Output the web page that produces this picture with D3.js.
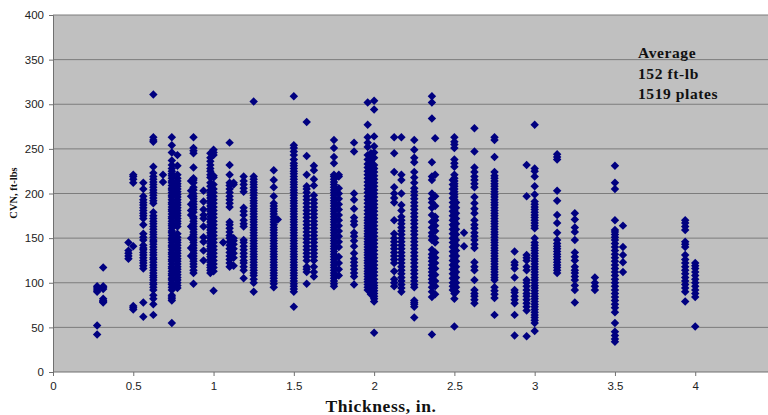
<!DOCTYPE html>
<html>
<head>
<meta charset="utf-8">
<script src="https://cdnjs.cloudflare.com/ajax/libs/d3/7.8.5/d3.min.js"></script>
<style>
  html, body { margin: 0; padding: 0; background: #fff; }
  svg { display: block; }
</style>
</head>
<body>
<svg id="chart" width="768" height="415"></svg>
<script>
const xTicks = [0, 0.5, 1, 1.5, 2, 2.5, 3, 3.5, 4];
const yTicks = [0, 50, 100, 150, 200, 250, 300, 350, 400];
const noteLines = ['Average', '152 ft-lb', '1519 plates'];

// one thickness per column of plates
const thickness = [
  0.275, 0.3125, 0.47, 0.5, 0.5625, 0.625, 0.685, 0.74, 0.775, 0.86, 0.875, 0.9375,
  0.98, 1, 1.06, 1.1, 1.125, 1.1875, 1.25, 1.375, 1.4, 1.5, 1.58, 1.625,
  1.75, 1.78, 1.875, 1.96, 1.98, 2, 2.125, 2.17, 2.25, 2.36, 2.38, 2.49,
  2.5, 2.51, 2.56, 2.625, 2.75, 2.875, 2.95, 3, 3.14, 3.25, 3.375, 3.5,
  3.55, 3.9375, 4
];

// CVN readings (ft-lbs), same order as thickness
const cvn = [
  [42, 52, 90, 92, 94, 96],
  [78, 79, 80, 82, 93, 95, 96, 117],
  [127, 130, 133, 136, 145],
  [70, 72, 74, 141, 212, 216, 219, 221],
  [62, 78, 116, 119, 122, 125, 128, 131, 134, 137, 139, 142, 148, 151, 155, 165, 172, 175, 178, 181, 184, 187, 190, 193, 197, 205, 212],
  [64, 76, 82, 86, 92, 95, 98, 100, 103, 106, 108, 111, 114, 117, 120, 123, 126, 128, 131, 134, 137, 140, 143, 146, 148, 151, 154, 157, 160, 163, 166, 169, 172, 175, 179, 189, 192, 195, 198, 201, 204, 207, 210, 213, 216, 219, 223, 230, 258, 260, 263, 311],
  [213, 221],
  [55, 80, 82, 84, 86, 92, 95, 98, 100, 103, 105, 108, 110, 113, 116, 118, 121, 124, 126, 129, 132, 134, 137, 140, 142, 145, 148, 150, 153, 156, 158, 161, 164, 166, 169, 172, 174, 177, 180, 182, 185, 188, 190, 193, 196, 198, 201, 204, 206, 209, 212, 214, 217, 220, 222, 225, 228, 232, 237, 246, 254, 263],
  [94, 97, 100, 103, 106, 109, 112, 115, 118, 121, 124, 127, 130, 133, 136, 139, 142, 145, 148, 151, 155, 163, 166, 169, 172, 175, 178, 181, 184, 187, 190, 193, 196, 199, 202, 205, 208, 211, 214, 217, 221, 231, 243],
  [130, 139, 150, 163, 176, 181, 188, 197, 203, 214],
  [99, 111, 114, 118, 121, 124, 127, 130, 133, 136, 139, 142, 145, 148, 151, 154, 157, 160, 163, 166, 169, 172, 174, 179, 182, 185, 188, 191, 194, 197, 200, 204, 207, 212, 215, 217, 229, 245, 248, 251, 263],
  [125, 136, 146, 151, 163, 172, 176, 182, 191, 203],
  [111, 114, 117, 120, 123, 126, 129, 132, 135, 138, 141, 144, 147, 150, 153, 156, 159, 162, 165, 168, 171, 174, 177, 180, 183, 186, 189, 192, 195, 198, 201, 204, 208, 212, 218, 221, 225, 228, 232, 236, 240, 245],
  [91, 113, 117, 121, 125, 129, 133, 137, 141, 145, 149, 153, 157, 161, 165, 169, 173, 177, 181, 185, 189, 193, 197, 201, 205, 210, 218, 220, 243, 246, 249],
  [145],
  [118, 122, 126, 130, 134, 138, 142, 146, 150, 153, 157, 161, 165, 168, 185, 189, 193, 197, 201, 205, 209, 212, 221, 232, 257],
  [119, 128, 133, 138, 143, 147, 150, 210, 212],
  [105, 114, 118, 122, 125, 129, 133, 137, 141, 145, 148, 163, 166, 170, 176, 180, 184, 202, 206, 210, 214, 219],
  [90, 100, 104, 108, 111, 114, 117, 120, 123, 126, 129, 132, 135, 138, 141, 144, 147, 150, 153, 156, 159, 162, 165, 168, 171, 174, 177, 180, 183, 186, 189, 192, 195, 198, 201, 204, 207, 210, 213, 216, 219, 303],
  [95, 99, 102, 105, 108, 111, 114, 117, 120, 123, 126, 129, 132, 135, 138, 141, 144, 147, 150, 153, 156, 159, 162, 165, 168, 171, 174, 177, 180, 183, 186, 189, 197, 207, 215, 226],
  [171],
  [73, 90, 93, 96, 99, 102, 105, 108, 111, 114, 117, 120, 123, 126, 129, 132, 135, 138, 141, 144, 147, 150, 153, 156, 159, 162, 165, 168, 171, 174, 177, 180, 183, 186, 189, 192, 195, 198, 201, 204, 207, 210, 213, 216, 219, 222, 225, 228, 231, 234, 238, 243, 247, 251, 254, 309],
  [99, 112, 115, 118, 125, 129, 133, 137, 141, 145, 149, 153, 157, 161, 165, 169, 173, 177, 181, 185, 189, 193, 197, 201, 205, 208, 221, 242, 280],
  [107, 112, 118, 125, 129, 133, 137, 141, 145, 149, 153, 157, 161, 165, 169, 173, 177, 181, 185, 189, 193, 198, 209, 216, 226, 231],
  [96, 99, 102, 105, 108, 111, 114, 117, 120, 123, 126, 129, 132, 135, 138, 141, 144, 147, 150, 153, 156, 159, 162, 165, 168, 171, 174, 177, 180, 183, 186, 189, 192, 195, 198, 201, 204, 207, 210, 213, 216, 219, 221, 234, 241, 251, 260],
  [108, 115, 122, 129, 140, 146, 152, 158, 164, 170, 176, 182, 188, 194, 200, 206, 219, 221],
  [98, 107, 111, 115, 119, 123, 127, 133, 141, 147, 152, 156, 165, 169, 173, 183, 193, 200, 247, 257],
  [92, 95, 98, 101, 104, 107, 110, 113, 116, 119, 122, 125, 128, 131, 134, 137, 140, 143, 146, 149, 152, 155, 158, 161, 164, 167, 170, 173, 177, 181, 185, 189, 193, 197, 201, 205, 209, 213, 217, 221, 225, 229, 233, 238, 243, 252, 257, 263, 277, 302],
  [87, 90, 93, 96, 99, 102, 105, 108, 111, 114, 117, 120, 123, 126, 129, 132, 135, 138, 141, 144, 147, 150, 153, 156, 159, 162, 165, 168, 171, 174, 177, 180, 183, 186, 189, 192, 195, 198, 201, 204, 207, 210, 213, 216, 219, 222, 225, 228, 232, 236, 240, 245],
  [44, 79, 82, 85, 88, 91, 94, 97, 100, 104, 108, 112, 116, 120, 124, 128, 132, 136, 140, 144, 148, 152, 156, 160, 164, 168, 172, 176, 180, 184, 188, 192, 196, 200, 204, 208, 212, 216, 220, 224, 228, 232, 240, 246, 253, 264, 294, 304],
  [96, 100, 104, 113, 122, 126, 130, 134, 138, 142, 146, 150, 155, 170, 190, 195, 200, 207, 224, 245, 263],
  [90, 94, 98, 102, 106, 110, 114, 118, 122, 126, 130, 134, 138, 142, 146, 150, 154, 158, 162, 166, 170, 174, 181, 187, 200, 215, 221, 263],
  [61, 73, 76, 78, 80, 95, 98, 102, 106, 110, 114, 118, 122, 126, 130, 134, 138, 142, 146, 150, 154, 158, 162, 166, 170, 174, 178, 182, 186, 190, 194, 198, 202, 206, 212, 218, 224, 235, 240, 249, 260],
  [42, 84, 90, 95, 100, 104, 108, 112, 116, 120, 124, 128, 132, 137, 148, 152, 156, 162, 168, 176, 184, 190, 194, 200, 215, 219, 235, 284, 302, 309],
  [87, 96, 102, 109, 116, 122, 128, 134, 145, 150, 158, 164, 170, 174, 186, 197, 221, 262],
  [92, 96, 100, 105, 110, 115, 120, 125, 130, 135, 140, 145, 150, 155, 160, 165, 170, 175, 180, 185, 190, 195, 200, 205, 210, 215],
  [51, 82, 88, 91, 94, 97, 100, 103, 106, 109, 112, 115, 118, 121, 124, 127, 130, 133, 136, 139, 142, 145, 148, 151, 154, 157, 160, 163, 166, 169, 172, 175, 178, 181, 184, 187, 190, 193, 196, 199, 202, 205, 208, 211, 214, 217, 221, 230, 234, 238, 251, 255, 258, 263],
  [90, 95, 100, 106, 112, 118, 124, 130, 136, 142, 148, 154, 160, 166, 172, 178, 184, 190],
  [141, 156],
  [77, 81, 85, 88, 92, 103, 114, 118, 123, 139, 143, 148, 152, 156, 161, 165, 170, 178, 183, 189, 196, 207, 211, 215, 219, 224, 229, 247, 273],
  [64, 83, 87, 91, 95, 103, 106, 109, 112, 115, 118, 121, 124, 127, 130, 133, 136, 139, 142, 145, 148, 151, 154, 157, 160, 163, 166, 169, 172, 175, 178, 181, 184, 187, 190, 193, 196, 199, 202, 205, 208, 211, 214, 217, 220, 224, 241, 260, 263],
  [41, 64, 77, 81, 85, 89, 92, 106, 116, 120, 123, 135],
  [40, 69, 73, 77, 81, 85, 88, 92, 96, 100, 103, 114, 118, 125, 128, 131, 197, 232],
  [46, 55, 58, 61, 64, 67, 70, 73, 76, 79, 82, 85, 88, 91, 94, 97, 100, 103, 106, 109, 112, 115, 118, 121, 124, 127, 130, 133, 136, 139, 142, 145, 150, 161, 164, 167, 170, 173, 176, 179, 182, 185, 188, 191, 199, 208, 219, 225, 228, 277],
  [111, 114, 117, 120, 123, 126, 129, 132, 135, 138, 141, 144, 148, 156, 167, 176, 192, 203, 238, 241, 244],
  [78, 92, 97, 103, 107, 111, 114, 118, 125, 129, 134, 148, 157, 162, 171, 178],
  [92, 96, 100, 106],
  [34, 37, 41, 45, 55, 67, 72, 76, 80, 84, 88, 92, 96, 100, 104, 108, 112, 116, 120, 124, 128, 132, 136, 140, 144, 148, 151, 154, 157, 159, 170, 205, 212, 231],
  [112, 123, 131, 140, 164],
  [79, 90, 94, 98, 102, 106, 110, 114, 118, 122, 126, 131, 140, 143, 146, 159, 163, 167, 170],
  [51, 84, 88, 92, 96, 100, 104, 108, 112, 116, 119, 122]
];

const svg = d3.select('#chart');
const margin = { left: 53, top: 15, bottom: 43 };
const height = 415;

const x = d3.scaleLinear().domain([0, 4.5]).range([margin.left, 775.5]);
const y = d3.scaleLinear().domain([0, 400]).range([height - margin.bottom, margin.top]);

const axisColor = '#707070';
const labelFont = '"Liberation Sans", Arial, sans-serif';
const titleFont = '"Liberation Serif", "Times New Roman", serif';

svg.append('rect')
  .attr('x', margin.left)
  .attr('y', margin.top)
  .attr('width', 768 - margin.left)
  .attr('height', y(0) - margin.top)
  .attr('fill', '#c0c0c0');

svg.append('g')
  .selectAll('line')
  .data(yTicks.filter(d => d > 0))
  .join('line')
  .attr('x1', margin.left)
  .attr('x2', 768)
  .attr('y1', d => y(d))
  .attr('y2', d => y(d))
  .attr('stroke', '#7c7c7c')
  .attr('stroke-width', 1);

const yAxis = d3.axisLeft(y).tickValues(yTicks).tickSize(4).tickPadding(5);
const xAxis = d3.axisBottom(x).tickValues(xTicks).tickFormat(d3.format('~g')).tickSize(4).tickPadding(6);

const yAxisG = svg.append('g')
  .attr('transform', `translate(${margin.left},0)`)
  .call(yAxis);
const xAxisG = svg.append('g')
  .attr('transform', `translate(0,${y(0)})`)
  .call(xAxis);

// the domain line would stop short of the page edge without this
xAxisG.select('.domain').attr('d', `M${margin.left},0H768`);

[yAxisG, xAxisG].forEach(g => {
  g.selectAll('path, line').attr('stroke', axisColor);
  g.selectAll('text')
    .attr('fill', '#222')
    .style('font-family', labelFont)
    .style('font-size', '11.5px');
});

const points = thickness.flatMap((t, i) => cvn[i].map(v => ({ t, v })));

// diamond marker: a square turned 45 degrees
const diamond = d3.symbol().type(d3.symbolSquare).size(36);
svg.append('g')
  .selectAll('path')
  .data(points)
  .join('path')
  .attr('d', diamond)
  .attr('transform', d => `translate(${x(d.t)},${y(d.v)}) rotate(45)`)
  .attr('fill', '#000080');

svg.append('text')
  .attr('transform', 'translate(17,193) rotate(-90)')
  .attr('text-anchor', 'middle')
  .style('font-family', titleFont)
  .style('font-weight', 'bold')
  .style('font-size', '10.5px')
  .attr('fill', '#111')
  .text('CVN, ft-lbs');

svg.append('text')
  .attr('x', 381)
  .attr('y', 412)
  .attr('text-anchor', 'middle')
  .style('font-family', titleFont)
  .style('font-weight', 'bold')
  .style('font-size', '17.5px')
  .style('letter-spacing', '0.6px')
  .attr('fill', '#111')
  .text('Thickness, in.');

svg.append('g')
  .selectAll('text')
  .data(noteLines)
  .join('text')
  .attr('x', 638)
  .attr('y', (d, i) => 58 + i * 20.5)
  .style('font-family', titleFont)
  .style('font-weight', 'bold')
  .style('font-size', '15.5px')
  .style('letter-spacing', '0.6px')
  .attr('fill', '#111')
  .text(d => d);
</script>
</body>
</html>
